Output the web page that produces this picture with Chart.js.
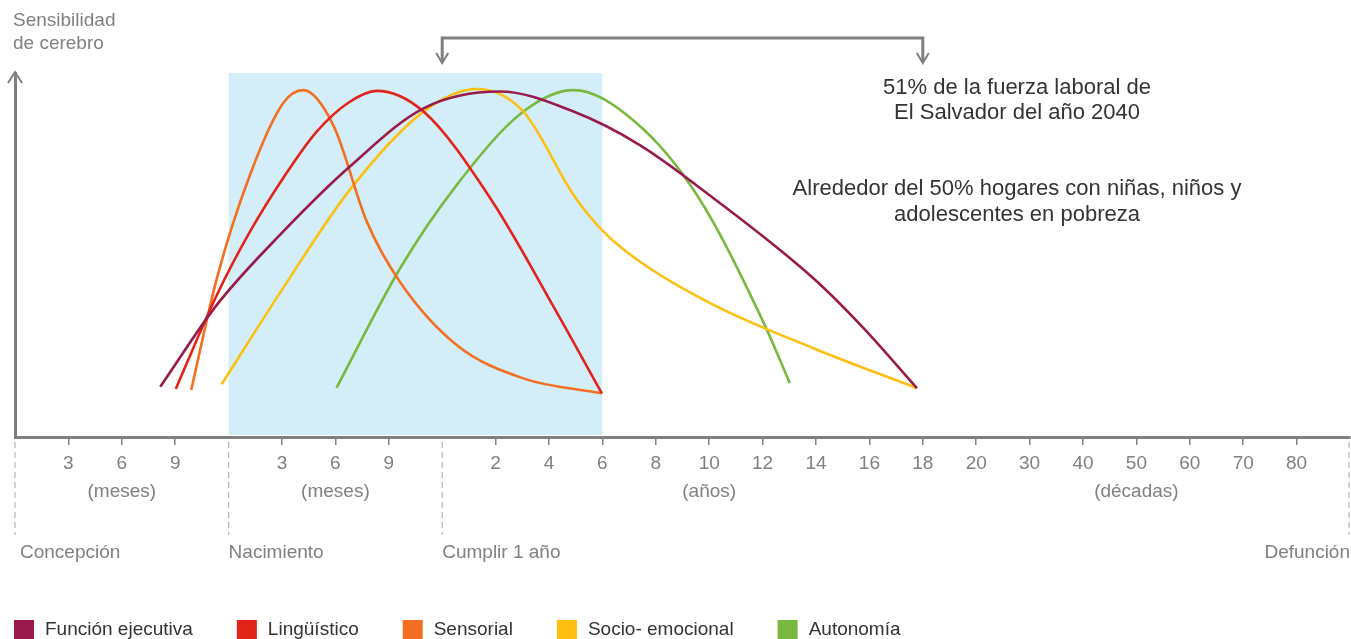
<!DOCTYPE html>
<html>
<head>
<meta charset="utf-8">
<script src="https://cdn.jsdelivr.net/npm/chart.js@4.4.1/dist/chart.umd.min.js"></script>
<style>
  body { margin: 0; background: #fff; }
  #wrap { width: 1351px; height: 639px; position: relative; }
</style>
</head>
<body>
<div id="wrap"><canvas id="curveChart"></canvas></div>
<script>
// x is the position along the life timeline (one step per tick), y is brain sensitivity (0-100)
const funcionEjecutiva = [[2.72, 13.8], [3.78, 36.3], [5.02, 56.4], [6.27, 74.3], [7.65, 90.3], [9.08, 94.9], [10.46, 89.4], [11.70, 80.2], [13.08, 65.6], [14.95, 43.6], [15.89, 29.9], [16.89, 13.4]];
const linguistico = [[3.01, 13.2], [3.78, 39.0], [4.40, 56.4], [5.02, 71.1], [5.65, 83.9], [6.27, 92.1], [6.77, 95.1], [7.65, 89.4], [8.90, 65.6], [10.14, 34.4], [10.99, 12.0]];
const sensorial = [[3.30, 12.9], [3.78, 43.6], [4.40, 72.0], [5.02, 91.7], [5.40, 95.3], [5.96, 85.7], [6.59, 59.1], [7.21, 42.6], [8.27, 25.3], [9.52, 16.1], [10.99, 12.0]];
const socioEmocional = [[3.87, 14.5], [5.02, 40.9], [6.27, 67.9], [7.65, 89.4], [8.65, 95.6], [9.52, 89.4], [10.46, 66.5], [11.02, 56.4], [11.70, 48.2], [13.08, 36.3], [14.95, 24.4], [16.89, 13.4]];
const autonomia = [[6.02, 13.5], [7.21, 46.3], [8.27, 69.2], [9.52, 89.4], [10.46, 95.3], [11.61, 86.6], [12.77, 66.5], [14.01, 31.7], [14.51, 14.8]];

const seriesNames = ['Función ejecutiva', 'Lingüístico', 'Sensorial', 'Socio- emocional', 'Autonomía'];
const seriesColors = ['#981b4c', '#e2231a', '#f36f21', '#fdbf12', '#7ab940'];

// tick positions and their labels
const tickPos = [1, 2, 3, 5, 6, 7, 9, 10, 11, 12, 13, 14, 15, 16, 17, 18, 19, 20, 21, 22, 23, 24];
const tickLabels = ['3', '6', '9', '3', '6', '9', '2', '4', '6', '8', '10', '12', '14', '16', '18', '20', '30', '40', '50', '60', '70', '80'];
const unitText = ['(meses)', '(meses)', '(años)', '(décadas)'];
const unitPos = [2, 6, 13, 21];
const milestoneText = ['Concepción', 'Nacimiento', 'Cumplir 1 año', 'Defunción'];
const milestonePos = [0, 4, 8, 25];

// shaded window (birth to 6 years) and bracket (1 year to 18 years)
const shadeFrom = 4, shadeTo = 11, shadeTop = 100;
const bracketFrom = 8, bracketTo = 17;
const noteLines1 = ['51% de la fuerza laboral de', 'El Salvador del año 2040'];
const noteLines2 = ['Alrededor del 50% hogares con niñas, niños y', 'adolescentes en pobreza'];

const axisGray = '#808080';
const textGray = '#808080';
const FONT = '"Liberation Sans", Arial, sans-serif';

Chart.defaults.font.family = FONT;

const allSeries = [funcionEjecutiva, linguistico, sensorial, socioEmocional, autonomia];
const datasets = allSeries.map(function(s, i) {
  return {
    label: seriesNames[i],
    data: s.map(p => ({x: p[0], y: p[1]})),
    borderColor: seriesColors[i],
    borderWidth: 2.6,
    pointRadius: 0,
    fill: false,
    cubicInterpolationMode: 'monotone'
  };
});

const extras = {
  id: 'extras',
  beforeDatasetsDraw(chart) {
    const {ctx, scales: {x, y}} = chart;
    ctx.save();
    ctx.fillStyle = '#d4eef9';
    const x0 = x.getPixelForValue(shadeFrom), x1 = x.getPixelForValue(shadeTo);
    const y0 = y.getPixelForValue(shadeTop), y1 = y.getPixelForValue(0) - 2;
    ctx.fillRect(x0, y0, x1 - x0, y1 - y0);
    ctx.restore();
  },
  afterDraw(chart) {
    const {ctx, scales: {x, y}, chartArea} = chart;
    ctx.save();

    // y axis arrow head
    const ax = chartArea.left;
    ctx.strokeStyle = axisGray;
    ctx.lineWidth = 2;
    ctx.beginPath();
    ctx.moveTo(ax - 7, chartArea.top + 10);
    ctx.lineTo(ax, chartArea.top - 1);
    ctx.lineTo(ax + 7, chartArea.top + 10);
    ctx.stroke();

    // y axis title
    ctx.fillStyle = textGray;
    ctx.font = '19px ' + FONT;
    ctx.textAlign = 'left';
    ctx.textBaseline = 'middle';
    ctx.fillText('Sensibilidad', 13, 21);
    ctx.fillText('de cerebro', 13, 44);

    // dashed milestone lines and labels
    const base = chartArea.bottom;
    ctx.strokeStyle = '#b8b8b8';
    ctx.lineWidth = 1.2;
    ctx.setLineDash([6, 4]);
    milestonePos.forEach(function(p) {
      let px = x.getPixelForValue(p);
      if (p === 25) px -= 1;
      ctx.beginPath();
      ctx.moveTo(px, base + 5);
      ctx.lineTo(px, base + 98);
      ctx.stroke();
    });
    ctx.setLineDash([]);
    milestoneText.forEach(function(t, i) {
      const px = x.getPixelForValue(milestonePos[i]);
      if (i === milestoneText.length - 1) {
        ctx.textAlign = 'right';
        ctx.fillText(t, px, base + 116);
      } else {
        ctx.textAlign = 'left';
        ctx.fillText(t, px + (i === 0 ? 5 : 0), base + 116);
      }
    });
    ctx.textAlign = 'center';
    unitText.forEach(function(t, i) {
      ctx.fillText(t, x.getPixelForValue(unitPos[i]), base + 55);
    });

    // bracket with down arrows
    const bx0 = x.getPixelForValue(bracketFrom), bx1 = x.getPixelForValue(bracketTo);
    ctx.strokeStyle = axisGray;
    ctx.lineWidth = 3;
    ctx.beginPath();
    ctx.moveTo(bx0, 62);
    ctx.lineTo(bx0, 38);
    ctx.lineTo(bx1, 38);
    ctx.lineTo(bx1, 62);
    ctx.stroke();
    ctx.lineWidth = 2;
    [bx0, bx1].forEach(function(bx) {
      ctx.beginPath();
      ctx.moveTo(bx - 6, 53);
      ctx.lineTo(bx, 63);
      ctx.lineTo(bx + 6, 53);
      ctx.stroke();
    });

    // notes
    ctx.fillStyle = '#333333';
    ctx.font = '22px ' + FONT;
    ctx.textAlign = 'center';
    ctx.fillText(noteLines1[0], 1017, 88);
    ctx.fillText(noteLines1[1], 1017, 113);
    ctx.fillText(noteLines2[0], 1017, 189);
    ctx.fillText(noteLines2[1], 1017, 215);

    // legend
    ctx.font = '19px ' + FONT;
    ctx.textAlign = 'left';
    let lx = 14;
    seriesNames.forEach(function(name, i) {
      ctx.fillStyle = seriesColors[i];
      ctx.fillRect(lx, 620, 20, 19);
      ctx.fillStyle = '#333333';
      ctx.fillText(name, lx + 31, 630);
      lx += 31 + ctx.measureText(name).width + 44;
    });

    ctx.restore();
  }
};

const ctx = document.getElementById('curveChart').getContext('2d');
const myChart = new Chart(ctx, {
  type: 'line',
  data: { datasets: datasets },
  options: {
    responsive: true,
    maintainAspectRatio: false,
    animation: false,
    layout: { padding: { left: 15, right: 1, top: 73, bottom: 162 } },
    plugins: {
      legend: { display: false },
      tooltip: { enabled: false }
    },
    scales: {
      x: {
        type: 'linear',
        min: 0,
        max: 25,
        afterBuildTicks: function(scale) {
          scale.ticks = tickPos.map(v => ({ value: v }));
        },
        afterFit: function(scale) {
          scale.height = 40;
        },
        ticks: {
          autoSkip: false,
          maxRotation: 0,
          padding: 7,
          color: textGray,
          font: { size: 19 },
          callback: function(value, index) {
            return tickLabels[index];
          }
        },
        grid: {
          drawOnChartArea: false,
          drawTicks: true,
          tickLength: 8,
          color: axisGray,
          lineWidth: 1.5
        },
        border: { color: axisGray, width: 3 }
      },
      y: {
        min: 0,
        max: 100,
        afterFit: function(scale) {
          scale.width = 0;
        },
        ticks: { display: false },
        grid: { display: false },
        border: { color: axisGray, width: 3 }
      }
    }
  },
  plugins: [extras]
});
</script>
</body>
</html>
